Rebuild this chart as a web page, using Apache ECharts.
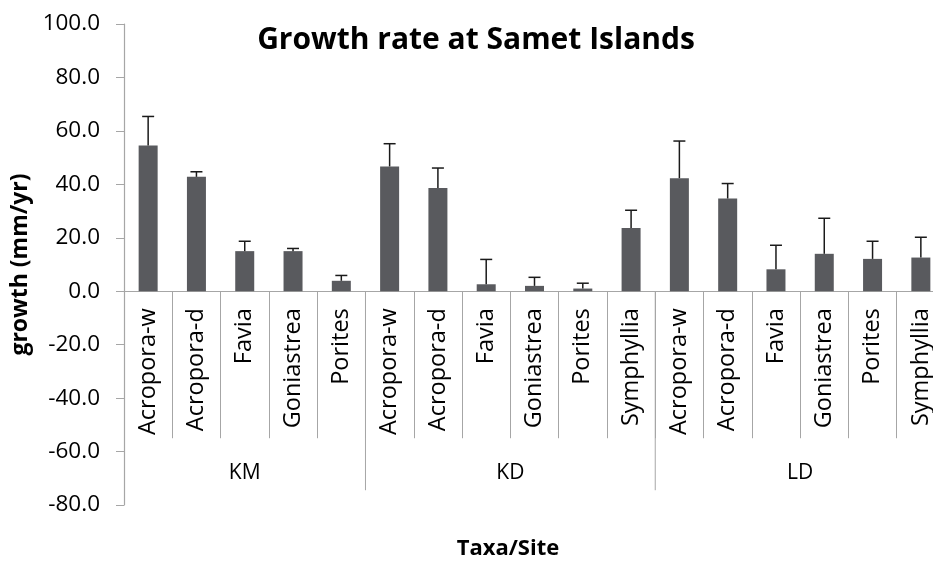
<!DOCTYPE html>
<html>
<head>
<meta charset="utf-8">
<script src="https://cdn.jsdelivr.net/npm/echarts@6/dist/echarts.min.js"></script>
<style>
  html, body { margin: 0; padding: 0; background: #ffffff; }
  #chart { width: 933px; height: 561px; }
</style>
</head>
<body>
<div id="chart"></div>
<script>
// Coral taxa measured at each site, in plotting order
const taxa = [
  'Acropora-w', 'Acropora-d', 'Favia', 'Goniastrea', 'Porites',
  'Acropora-w', 'Acropora-d', 'Favia', 'Goniastrea', 'Porites', 'Symphyllia',
  'Acropora-w', 'Acropora-d', 'Favia', 'Goniastrea', 'Porites', 'Symphyllia'
];
// Sites and how many taxa belong to each
const sites = ['KM', 'KD', 'LD'];
const siteSizes = [5, 6, 6];
// Mean growth (mm/yr) and its error (upper bar only)
const growth = [54.5, 42.8, 15.0, 15.0, 3.9, 46.7, 38.6, 2.6, 2.0, 1.0, 23.7, 42.3, 34.7, 8.2, 14.0, 12.1, 12.6];
const growthErr = [10.9, 1.9, 3.7, 1.0, 2.0, 8.5, 7.5, 9.3, 3.2, 2.0, 6.6, 13.9, 5.6, 9.0, 13.3, 6.6, 7.6];
// Value axis range
const yMin = -80, yMax = 100, yStep = 20;

const catKeys = taxa.map((t, i) => String(i));

// site spans: [first taxon index, taxon count]
const siteSpans = [];
let startIdx = 0;
siteSizes.forEach(n => { siteSpans.push([startIdx, n]); startIdx += n; });

const axisGrey = '#a6a6a6';
const font = '"Open Sans", "Noto Sans", sans-serif';

const chart = echarts.init(document.getElementById('chart'), null, { renderer: 'canvas' });

chart.setOption({
  backgroundColor: '#ffffff',
  animation: false,
  title: [
    {
      text: 'Growth rate at Samet Islands',
      left: 471, top: 20, textAlign: 'center',
      textStyle: { fontFamily: font, fontWeight: 'bold', fontSize: 30, color: '#000' }
    },
    {
      text: 'Taxa/Site',
      left: 503, top: 533, textAlign: 'center',
      textStyle: { fontFamily: font, fontWeight: 'bold', fontSize: 22, color: '#000' }
    }
  ],
  grid: { left: 124, right: -12, top: 24, bottom: 56, outerBoundsMode: 'none', containLabel: false },
  xAxis: {
    type: 'category',
    data: catKeys,
    boundaryGap: true,
    axisLine: { show: true, onZero: true, lineStyle: { color: axisGrey, width: 1.2 } },
    axisTick: { show: true, interval: 0, length: 147, lineStyle: { color: axisGrey, width: 1 } },
    axisLabel: { show: false },
    splitLine: { show: false }
  },
  yAxis: {
    type: 'value',
    min: yMin, max: yMax, interval: yStep,
    name: 'growth (mm/yr)',
    nameLocation: 'middle',
    nameGap: 91,
    nameRotate: 90,
    nameTextStyle: { fontFamily: font, fontWeight: 'bold', fontSize: 23, color: '#000' },
    axisLine: { show: true, lineStyle: { color: axisGrey, width: 1.2 } },
    axisTick: { show: true, inside: false, length: 8, lineStyle: { color: axisGrey } },
    axisLabel: {
      margin: 24,
      formatter: v => v.toFixed(1),
      fontFamily: font, fontSize: 22.5, color: '#000'
    },
    splitLine: { show: false }
  },
  series: [
    {
      name: 'growth',
      type: 'bar',
      data: growth,
      barWidth: 19,
      itemStyle: { color: '#595a5e' },
      z: 2
    },
    {
      // upper error bars with caps
      name: 'error',
      type: 'custom',
      data: growth.map((g, i) => [i, g, growthErr[i]]),
      z: 3,
      renderItem: (params, api) => {
        const idx = api.value(0), val = api.value(1), err = api.value(2);
        const base = api.coord([idx, val]);
        const top = api.coord([idx, val + err]);
        const style = { stroke: '#1a1a1a', lineWidth: 1.5 };
        return {
          type: 'group',
          children: [
            { type: 'line', shape: { x1: base[0], y1: base[1], x2: top[0], y2: top[1] }, style },
            { type: 'line', shape: { x1: top[0] - 6, y1: top[1], x2: top[0] + 6, y2: top[1] }, style }
          ]
        };
      }
    },
    {
      // taxon names hanging below the zero line, reading bottom-to-top
      name: 'taxa',
      type: 'custom',
      clip: false,
      silent: true,
      data: taxa.map((t, i) => [i, 0]),
      renderItem: (params, api) => {
        const p = api.coord([api.value(0), 0]);
        return {
          type: 'text',
          x: p[0],
          y: p[1] + 17,
          rotation: Math.PI / 2,
          style: {
            text: taxa[params.dataIndex],
            align: 'right', verticalAlign: 'middle',
            fontFamily: font, fontSize: 23.5, fill: '#000'
          }
        };
      }
    },
    {
      // site brackets beneath the taxa labels
      name: 'sites',
      type: 'custom',
      clip: false,
      silent: true,
      data: siteSpans.map(s => [s[0], s[1]]),
      renderItem: (params, api) => {
        const first = api.value(0), count = api.value(1);
        const band = api.size([1, 0])[0];
        const left = api.coord([first, 0])[0] - band / 2;
        const right = left + band * count;
        const y0 = api.coord([first, 0])[1];
        return {
          type: 'group',
          children: [
            { type: 'line', shape: { x1: right, y1: y0, x2: right, y2: y0 + 199 },
              style: { stroke: axisGrey, lineWidth: 1 } },
            { type: 'text', style: {
                x: (left + right) / 2, y: y0 + 182,
                text: sites[params.dataIndex],
                align: 'center', verticalAlign: 'middle',
                fontFamily: font, fontSize: 21, fill: '#000'
              } }
          ]
        };
      }
    }
  ]
});
</script>
</body>
</html>
